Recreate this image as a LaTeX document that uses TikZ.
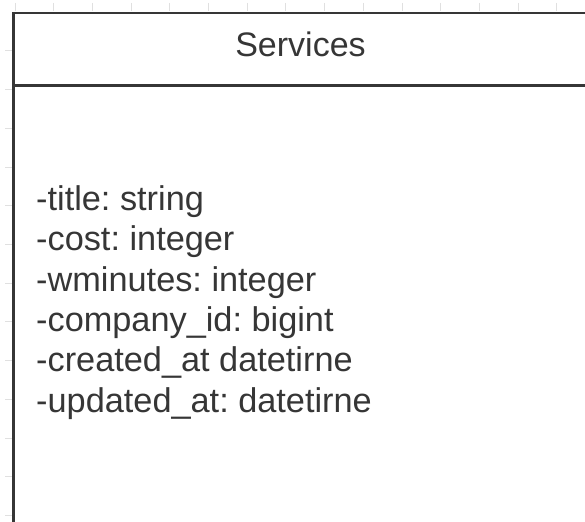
\documentclass[tikz,border=0pt]{standalone}
\usepackage{fontspec}
\setmainfont{Liberation Sans}
\definecolor{ink}{HTML}{363636}
\definecolor{tickgrey}{HTML}{E0E0E0}
\tikzset{
  tickmark/.style={draw=tickgrey, line width=1pt},
  classline/.style={draw=ink, line width=2.8pt},
  sepline/.style={draw=ink, line width=2.4pt},
  hdrtext/.style={text=ink, inner sep=0pt, font=\fontsize{34}{40}\selectfont\frenchspacing},
  attrtext/.style={text=ink, inner sep=0pt, anchor=base west, font=\fontsize{34.3}{40}\selectfont\frenchspacing},
}
\begin{document}
\begin{tikzpicture}[x=1pt, y=-1pt]
  \useasboundingbox (0,0) rectangle (585,521);
  \clip (0,0) rectangle (585,521);
  \fill[white] (0,0) rectangle (585,521);
  % faint ruler ticks of the canvas grid
  \foreach \i in {0,...,14}
    \draw[tickmark] ({15+38.7*\i},3) -- ({15+38.7*\i},11);
  \foreach \i in {1,...,13}
    \draw[tickmark] (5,{12.3+38.7*\i}) -- (12,{12.3+38.7*\i});
  % class box (runs past the right and bottom edges)
  \coordinate (boxtl) at (13.5,13);
  \coordinate (boxbl) at (13.5,560);
  \coordinate (boxtr) at (600,13);
  \coordinate (sepl) at (13.5,85.5);
  \coordinate (sepr) at (600,85.5);
  \draw[classline] (boxbl) -- (boxtl) -- (boxtr);
  \draw[sepline] (sepl) -- (sepr);
  % header
  \node[hdrtext, anchor=base] (hdr) at (300.5,57) {Services};
  % attributes
  \node[attrtext] (a1) at (36,210) {-title: string};
  \node[attrtext] (a2) at (36,250.5) {-cost: integer};
  \node[attrtext] (a3) at (36,291) {-wminutes: integer};
  \node[attrtext] (a4) at (36,331) {-company\_id: bigint};
  \node[attrtext] (a5) at (36,371.5) {-created\_at datetirne};
  \node[attrtext] (a6) at (36,412) {-updated\_at: datetirne};
\end{tikzpicture}
\end{document}
